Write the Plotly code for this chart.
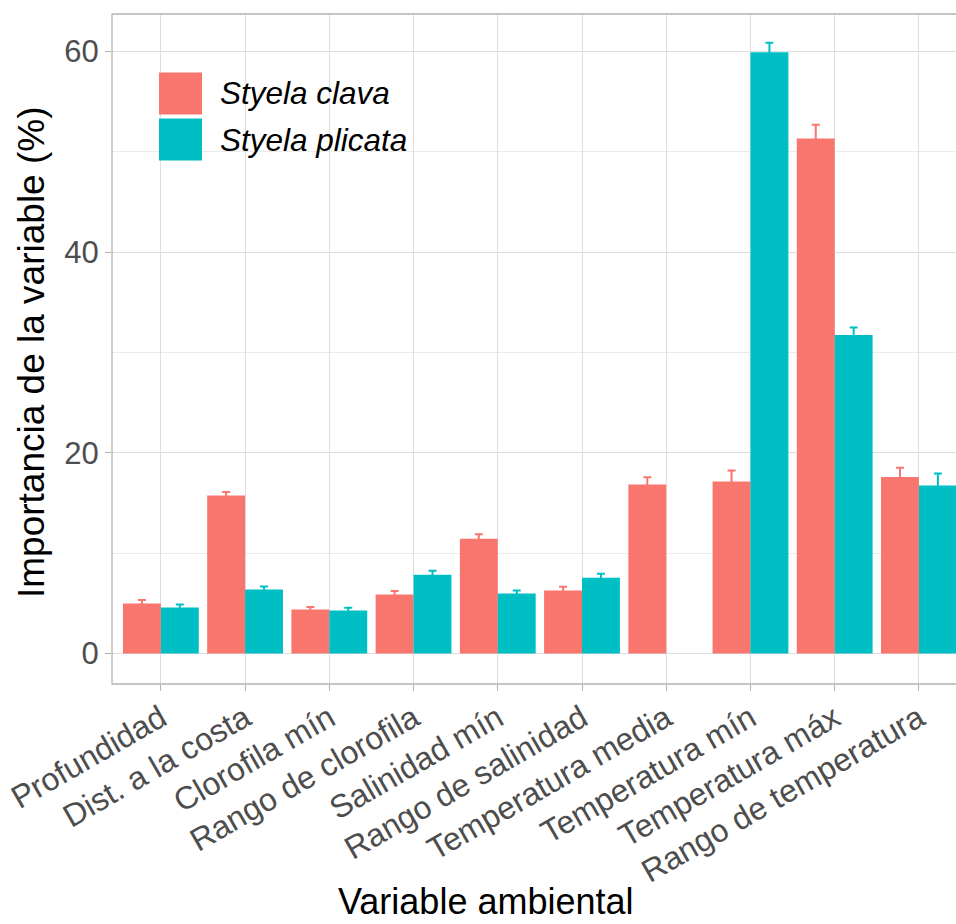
import plotly.graph_objects as go

categories = ["Profundidad", "Dist. a la costa", "Clorofila mín", "Rango de clorofila",
              "Salinidad mín", "Rango de salinidad", "Temperatura media", "Temperatura mín",
              "Temperatura máx", "Rango de temperatura"]
species = ["Styela clava", "Styela plicata"]
clava_vals = [5.0, 15.75, 4.4, 5.9, 11.45, 6.3, 16.85, 17.15, 51.35, 17.6]
clava_err = [0.35, 0.35, 0.25, 0.33, 0.45, 0.37, 0.73, 1.1, 1.37, 0.93]
plicata_vals = [4.6, 6.4, 4.3, 7.85, 6.0, 7.55, None, 59.95, 31.75, 16.75]
plicata_err = [0.3, 0.3, 0.26, 0.4, 0.3, 0.4, None, 0.93, 0.76, 1.2]
y_ticks = [0, 20, 40, 60]

colors = ["#F8766D", "#00BFC4"]
FONT = "Liberation Sans"

W, H = 956, 924
L, R, T, B = 112, 0, 14, 240
pw, ph = W - L - R, H - T - B


def px(x):
    return (x - L) / pw


def py(y):
    return 1 - (y - T) / ph


fig = go.Figure()
for vals, errs, col, name in [(clava_vals, clava_err, colors[0], species[0]),
                              (plicata_vals, plicata_err, colors[1], species[1])]:
    fig.add_trace(go.Bar(
        x=categories, y=vals, name=name, marker=dict(color=col, line=dict(width=0)),
        error_y=dict(type="data", array=errs, symmetric=True, color=col,
                     thickness=2, width=4),
        showlegend=False,
    ))

fig.update_layout(
    width=W, height=H,
    margin=dict(l=L, r=R, t=T, b=B),
    paper_bgcolor="white", plot_bgcolor="white",
    barmode="group", bargap=0.1, bargroupgap=0,
    font=dict(family=FONT, color="#4D4D4D", size=30),
    xaxis=dict(
        type="category", range=[-0.58, 9.44],
        showgrid=True, gridcolor="#DEDEDE", gridwidth=1.1,
        ticks="outside", ticklen=6, tickcolor="#B3B3B3", tickwidth=1.1,
        tickangle=-30, tickfont=dict(size=32, color="#4D4D4D", family=FONT),
        ticklabelstandoff=-4,
        showline=False, zeroline=False,
    ),
    yaxis=dict(
        range=[-3.03, 63.75], tickvals=y_ticks,
        showgrid=True, gridcolor="#DEDEDE", gridwidth=1.1,
        minor=dict(dtick=10, tick0=0, showgrid=True, gridcolor="#EBEBEB", gridwidth=0.6),
        ticks="outside", ticklen=6, tickcolor="#B3B3B3", tickwidth=1.1,
        tickfont=dict(size=31, color="#4D4D4D", family=FONT),
        showline=False, zeroline=False,
    ),
)

# panel border (right side falls outside the picture)
fig.add_shape(type="rect", xref="paper", yref="paper", x0=0, x1=1.2, y0=0, y1=1,
              line=dict(color="#B3B3B3", width=1.3), fillcolor="rgba(0,0,0,0)", layer="above")

# legend
key_rows = [(72.5, 114.5), (118.5, 160.5)]
for (y0, y1), col, name in zip(key_rows, colors, species):
    fig.add_shape(type="rect", xref="paper", yref="paper",
                  x0=px(159), x1=px(202), y0=py(y1), y1=py(y0),
                  line=dict(width=0), fillcolor=col, layer="above")
    fig.add_annotation(xref="paper", yref="paper", x=px(218), y=py((y0 + y1) / 2),
                       text=f"<i>{name}</i>", showarrow=False, xanchor="left", yanchor="middle",
                       font=dict(family=FONT, size=31.5, color="black"))

# axis titles
fig.add_annotation(xref="paper", yref="paper", x=px(486), y=py(924), text="Variable ambiental",
                   showarrow=False, xanchor="center", yanchor="bottom",
                   font=dict(family=FONT, size=36, color="black"))
fig.add_annotation(xref="paper", yref="paper", x=px(31), y=py(352),
                   text="Importancia de la variable (%)", textangle=-90,
                   showarrow=False, xanchor="center", yanchor="middle",
                   font=dict(family=FONT, size=37, color="black"))

fig.write_html("out.html")
